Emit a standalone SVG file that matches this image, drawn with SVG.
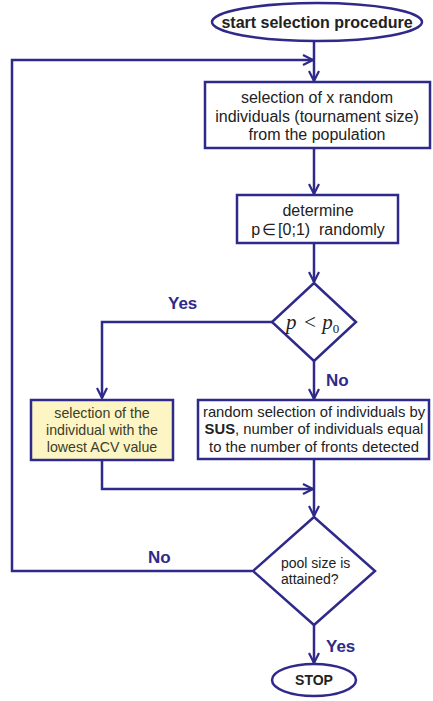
<svg xmlns="http://www.w3.org/2000/svg" width="433" height="701" viewBox="0 0 433 701">
<style>
.s{fill:none;stroke:#2f2a8a;stroke-width:2.5}
.n{fill:#fff;stroke:#2f2a8a;stroke-width:2.5}
.y{fill:#fdf5c4;stroke:#2f2a8a;stroke-width:2.5}
.t{font-family:"Liberation Sans",Arial,sans-serif;fill:#222;text-anchor:middle}
.b{font-weight:bold}
.l{font-family:"Liberation Sans",Arial,sans-serif;font-weight:bold;font-size:17px;fill:#2f2a8a}
</style>
<defs>
<marker id="a" viewBox="0 0 12 12" refX="11" refY="6" markerWidth="12" markerHeight="12" markerUnits="userSpaceOnUse" orient="auto">
<path d="M1,1 L11,6 L1,11" fill="none" stroke="#2f2a8a" stroke-width="2.2"/>
</marker>
</defs>
<rect width="433" height="701" fill="#fff"/>
<g id="connectors">
<line class="s" x1="314" y1="41" x2="314" y2="81" marker-end="url(#a)"/>
<polyline class="s" points="252,571 12,571 12,60 313,60" marker-end="url(#a)"/>
<line class="s" x1="314" y1="148" x2="314" y2="194" marker-end="url(#a)"/>
<line class="s" x1="314" y1="243" x2="314" y2="282" marker-end="url(#a)"/>
<polyline class="s" points="272,322 102,322 102,398" marker-end="url(#a)"/>
<line class="s" x1="314" y1="361" x2="314" y2="399" marker-end="url(#a)"/>
<polyline class="s" points="102,460 102,489 313,489" marker-end="url(#a)"/>
<line class="s" x1="314" y1="459" x2="314" y2="516" marker-end="url(#a)"/>
<line class="s" x1="314" y1="625" x2="314" y2="663" marker-end="url(#a)"/>
<text class="l" x="168" y="309">Yes</text>
<text class="l" x="326" y="386">No</text>
<text class="l" x="148" y="563">No</text>
<text class="l" x="326" y="652">Yes</text>
</g>
<g id="start">
<ellipse class="n" cx="317" cy="22" rx="105" ry="19"/>
<text class="t b" x="317" y="28" font-size="16">start selection procedure</text>
</g>
<g id="select">
<rect class="n" x="205" y="82" width="225" height="66"/>
<text class="t" x="317" y="103" font-size="16">selection of x random</text>
<text class="t" x="317" y="122" font-size="16">individuals (tournament size)</text>
<text class="t" x="317" y="140" font-size="16">from the population</text>
</g>
<g id="determine">
<rect class="n" x="237" y="195" width="161" height="48"/>
<text class="t" x="318" y="216" font-size="16">determine</text>
<text class="t" x="318" y="235" font-size="16" xml:space="preserve">p<tspan dx="2">∈</tspan><tspan dx="2">[0;1)</tspan>  randomly</text>
</g>
<g id="decision1">
<polygon class="n" points="314,283 356,322 314,361 272,322"/>
<text x="286" y="329" font-family="'Liberation Serif','Times New Roman',serif" font-style="italic" font-size="21" fill="#222">p <tspan dx="1">&lt;</tspan> <tspan>p</tspan><tspan font-size="13" font-style="normal" dy="4">0</tspan></text>
</g>
<g id="lowest">
<rect class="y" x="31" y="400" width="142" height="60"/>
<text class="t" x="102" y="418" font-size="14.2" style="fill:#403c28">selection of the</text>
<text class="t" x="102" y="435" font-size="14.2" style="fill:#403c28">individual with the</text>
<text class="t" x="102" y="452" font-size="14.2" style="fill:#403c28">lowest ACV value</text>
</g>
<g id="sus">
<rect class="n" x="198" y="400" width="231" height="59"/>
<text class="t" x="314" y="417" font-size="14.8">random selection of individuals by</text>
<text class="t" x="314" y="434" font-size="14.8"><tspan font-weight="bold">SUS</tspan>, number of individuals equal</text>
<text class="t" x="314" y="452" font-size="14.8">to the number of fronts detected</text>
</g>
<g id="decision2">
<polygon class="n" points="314,517 375,571 314,625 253,571"/>
<text x="281" y="568" font-family="'Liberation Sans',Arial,sans-serif" font-size="14" fill="#222">pool size is</text>
<text x="281" y="584" font-family="'Liberation Sans',Arial,sans-serif" font-size="14" fill="#222">attained?</text>
</g>
<g id="stop">
<ellipse class="n" cx="314" cy="680" rx="42" ry="16"/>
<text class="t b" x="314" y="685" font-size="14">STOP</text>
</g>
</svg>
